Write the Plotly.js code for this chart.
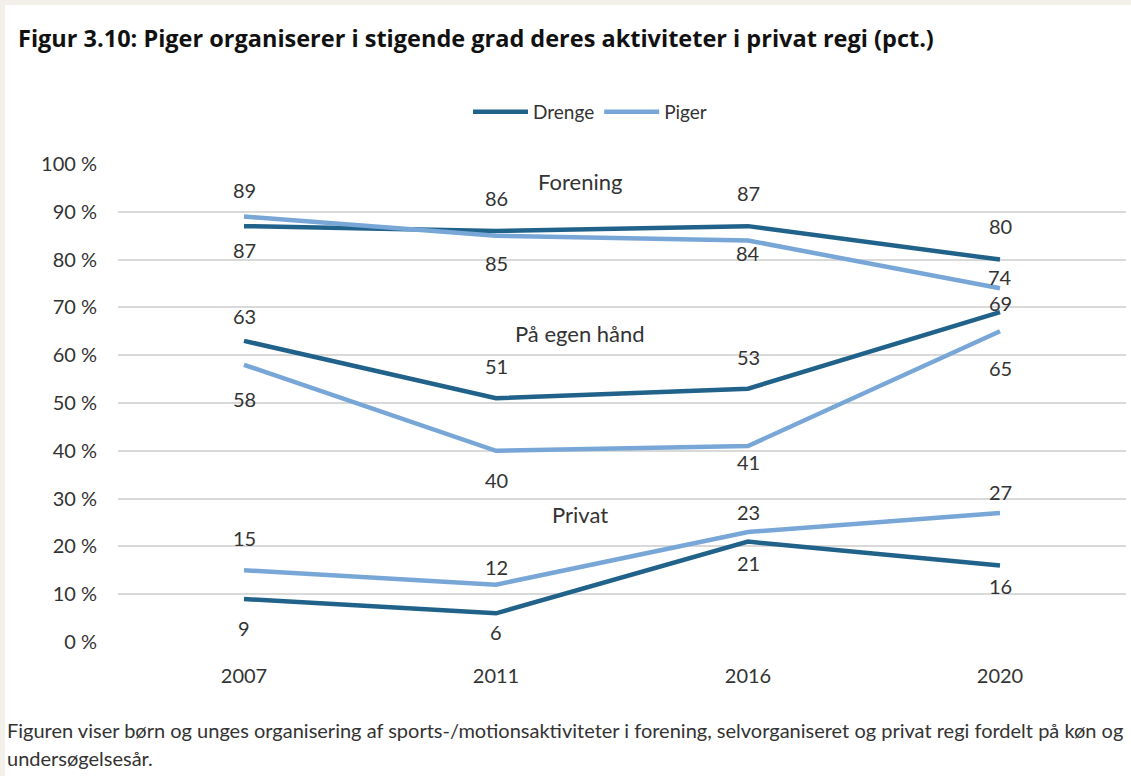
<!DOCTYPE html>
<html>
<head>
<meta charset="utf-8">
<script src="https://cdn.plot.ly/plotly-3.0.1.min.js"></script>
<style>
html,body{margin:0;padding:0;background:#f3f0e9;}
#wrap{position:absolute;left:5px;top:5px;width:1126px;height:771px;background:#fff;}
#chart{width:1126px;height:771px;}
</style>
</head>
<body>
<div id="wrap"><div id="chart"></div></div>
<script>
// ---- data ----
const years = ["2007", "2011", "2016", "2020"];
const drengeForening = [87, 86, 87, 80];
const pigerForening  = [89, 85, 84, 74];
const drengeEgen     = [63, 51, 53, 69];
const pigerEgen      = [58, 40, 41, 65];
const drengePrivat   = [9, 6, 21, 16];
const pigerPrivat    = [15, 12, 23, 27];
const yTicks = [0, 10, 20, 30, 40, 50, 60, 70, 80, 90, 100];
const groupNames = ["Forening", "På egen hånd", "Privat"];
const groupLabelY = [96.4, 64.6, 26.6];

// ---- label placement (pixel shifts, up positive) ----
const shiftDF = [-24, 33, 33, 34];
const shiftPF = [27, -27, -13, 11];
const shiftDE = [25, 32, 32, 9];
const shiftPE = [-34, -29, -16, -37];
const shiftDP = [-29, -19, -21, -20];
const shiftPP = [32, 18, 20, 21];

const cDrenge = "#21628a";
const cPiger = "#78a7d7";
const font = "Lato, 'Noto Sans', sans-serif";
const titleFont = "'Open Sans', Lato, sans-serif";
const textCol = "#333333";

function tr(name, y, color, show) {
  return {x: years, y: y, type: "scatter", mode: "lines", name: name,
    legendgroup: name, showlegend: show, hoverinfo: "x+y",
    line: {color: color, width: 4.5}};
}
const traces = [
  tr("Drenge", drengeForening, cDrenge, true),
  tr("Piger", pigerForening, cPiger, true),
  tr("Drenge", drengeEgen, cDrenge, false),
  tr("Piger", pigerEgen, cPiger, false),
  tr("Drenge", drengePrivat, cDrenge, false),
  tr("Piger", pigerPrivat, cPiger, false)
];

const annotations = [];
function addLabels(vals, shifts) {
  vals.forEach((v, i) => annotations.push({x: i, y: v, xref: "x", yref: "y",
    text: String(v), showarrow: false, yshift: shifts[i],
    font: {family: font, size: 20, color: textCol}}));
}
addLabels(drengeForening, shiftDF);
addLabels(pigerForening, shiftPF);
addLabels(drengeEgen, shiftDE);
addLabels(pigerEgen, shiftPE);
addLabels(drengePrivat, shiftDP);
addLabels(pigerPrivat, shiftPP);

groupNames.forEach((g, i) => annotations.push({x: 1.335, y: groupLabelY[i], xref: "x", yref: "y",
  text: g, showarrow: false, font: {family: font, size: 22, color: textCol}}));

const W = 1126, H = 771, mL = 113, mR = 5, mT = 159, mB = 134;
const pw = W - mL - mR, ph = H - mT - mB;
const px = (x) => (x - mL) / pw;
const py = (y) => (H - mB - y) / ph;

annotations.push({xref: "paper", yref: "paper", x: px(0), y: py(725), xanchor: "left", yanchor: "middle",
  showarrow: false, align: "left",
  text: "Figuren viser børn og unges organisering af sports-/motionsaktiviteter i forening, selvorganiseret og privat regi fordelt på køn og",
  font: {family: font, size: 20, color: textCol}});
annotations.push({xref: "paper", yref: "paper", x: px(0), y: py(753), xanchor: "left", yanchor: "middle",
  showarrow: false, align: "left", text: "undersøgelsesår.",
  font: {family: font, size: 20, color: textCol}});

const yText = yTicks.map(v => v + " %");

const layout = {
  width: W, height: H,
  margin: {l: mL, r: mR, t: mT, b: mB},
  paper_bgcolor: "#ffffff", plot_bgcolor: "#ffffff",
  title: {text: "<b>Figur 3.10: Piger organiserer i stigende grad deres aktiviteter i privat regi (pct.)</b>",
    xref: "container", yref: "container", x: 13 / W, xanchor: "left", y: 1 - 34 / H, yanchor: "middle",
    font: {family: titleFont, size: 23.5, color: "#111111"}},
  showlegend: true,
  legend: {orientation: "h", x: px(585), xanchor: "center", y: py(107), yanchor: "middle",
    font: {family: font, size: 19, color: textCol}, itemwidth: 55, bgcolor: "rgba(0,0,0,0)"},
  xaxis: {type: "category", range: [-0.5, 3.5], showgrid: false, zeroline: false, showline: false,
    ticks: "", ticklabelstandoff: 20, tickfont: {family: font, size: 20, color: textCol}, fixedrange: true},
  yaxis: {range: [0, 100], tickmode: "array", tickvals: yTicks, ticktext: yText, showgrid: true, gridcolor: "#d9d9d9", gridwidth: 1.5,
    zeroline: false, showline: false, ticks: "", ticklabelstandoff: 20,
    tickfont: {family: font, size: 20, color: textCol}, fixedrange: true},
  annotations: annotations
};

Plotly.newPlot("chart", traces, layout, {displayModeBar: false});
</script>
</body>
</html>
